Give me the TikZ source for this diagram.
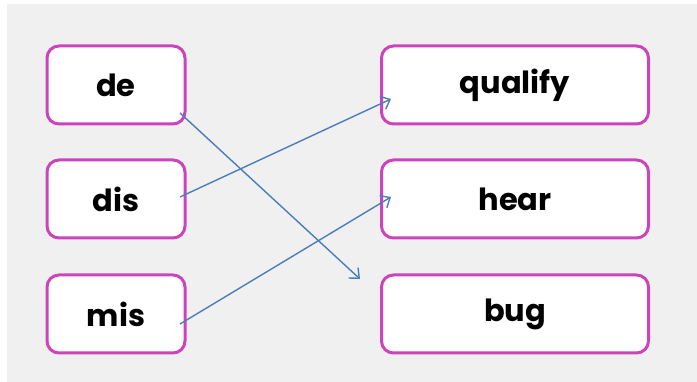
\documentclass[tikz,border=0pt]{standalone}
\usepackage{fontspec}
\setmainfont{Poppins}
\usetikzlibrary{arrows.meta}
\definecolor{bg}{HTML}{F0F0F0}
\definecolor{boxc}{HTML}{CC44BB}
\definecolor{arr}{HTML}{4A7EBB}
\begin{document}
\begin{tikzpicture}[x=1pt,y=-1pt,
  wordbox/.style={draw=boxc, line width=3pt, fill=white, rounded corners=12pt,
    inner sep=0pt, font=\fontsize{30.5}{32}\selectfont\bfseries},
  link/.style={draw=arr, line width=1.4pt, -{Straight Barb[length=8pt,width=14pt,line width=1.4pt]}}]
\useasboundingbox (0,0) rectangle (697,382);
\fill[white] (0,0) rectangle (697,382);
\fill[bg] (7,4) rectangle (697,382);
\node[wordbox, minimum width=138pt, minimum height=78pt] (de) at (116,85) {\raisebox{-2pt}{de}};
\node[wordbox, minimum width=138pt, minimum height=78pt] (dis) at (116,199) {\raisebox{-2pt}{dis}};
\node[wordbox, minimum width=138pt, minimum height=78pt] (mis) at (116,314) {\raisebox{-2pt}{mis}};
\node[wordbox, minimum width=267pt, minimum height=78pt] (qualify) at (515,85) {\raisebox{-2pt}{qualify}};
\node[wordbox, minimum width=267pt, minimum height=78pt] (hear) at (515,199) {\raisebox{-2pt}{hear}};
\node[wordbox, minimum width=267pt, minimum height=78pt] (bug) at (515,314) {\raisebox{-2pt}{bug}};
\coordinate (a1) at (180,113);
\coordinate (a2) at (360,279);
\coordinate (b1) at (180,197);
\coordinate (b2) at (391,99);
\coordinate (c1) at (180,324);
\coordinate (c2) at (391,197);
\path[link] (a1) -- (a2);
\path[link] (b1) -- (b2);
\path[link] (c1) -- (c2);
\end{tikzpicture}
\end{document}
